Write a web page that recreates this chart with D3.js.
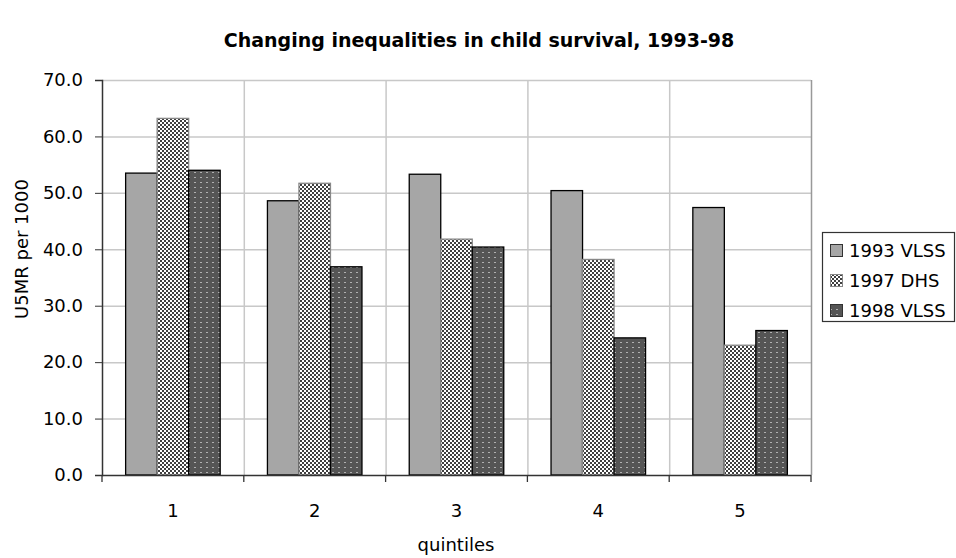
<!DOCTYPE html>
<html>
<head>
<meta charset="utf-8">
<script src="https://cdnjs.cloudflare.com/ajax/libs/d3/7.8.5/d3.min.js"></script>
<style>
  body { margin: 0; background: #fff; }
  text { font-family: "DejaVu Sans", Verdana, sans-serif; }
</style>
</head>
<body>
<svg id="chart" width="956" height="558"></svg>
<script>
// values
const quintiles = ["1", "2", "3", "4", "5"];
const seriesNames = ["1993 VLSS", "1997 DHS", "1998 VLSS"];
const vlss1993 = [53.5, 48.6, 53.3, 50.4, 47.4];
const dhs1997 = [63.2, 51.7, 41.8, 38.2, 23.0];
const vlss1998 = [54.0, 36.9, 40.4, 24.3, 25.6];
const yTicks = [0, 10, 20, 30, 40, 50, 60, 70];

const allSeries = [vlss1993, dhs1997, vlss1998];
const fills = ["#a6a6a6", "url(#checker)", "url(#dots)"];
const strokes = ["#000", "#888", "#000"];

const svg = d3.select("#chart");
const m = { left: 102, right: 811, top: 80, bottom: 475 };

// patterns
const defs = svg.append("defs");
const ck = defs.append("pattern").attr("id", "checker")
    .attr("patternUnits", "userSpaceOnUse").attr("width", 4).attr("height", 4);
ck.append("rect").attr("width", 4).attr("height", 4).attr("fill", "#fff");
ck.append("rect").attr("width", 2).attr("height", 2).attr("fill", "#404040");
ck.append("rect").attr("x", 2).attr("y", 2).attr("width", 2).attr("height", 2).attr("fill", "#404040");
const dt = defs.append("pattern").attr("id", "dots")
    .attr("patternUnits", "userSpaceOnUse").attr("width", 6).attr("height", 5);
dt.append("rect").attr("width", 6).attr("height", 5).attr("fill", "#555");
dt.append("rect").attr("x", 2).attr("y", 2).attr("width", 2).attr("height", 1).attr("fill", "#b0b0b0");

const x = d3.scaleBand().domain(quintiles).range([m.left, m.right]);
const xs = d3.scaleBand().domain(seriesNames).range([0, x.bandwidth()]).paddingInner(0).paddingOuter(0.75);
const y = d3.scaleLinear().domain([0, 70]).range([m.bottom, m.top]);

// gridlines
svg.append("g").selectAll("line").data(yTicks.slice(1)).enter().append("line")
    .attr("x1", m.left).attr("x2", m.right)
    .attr("y1", d => y(d) + 0.5).attr("y2", d => y(d) + 0.5)
    .attr("stroke", "#c8c8c8").attr("stroke-width", 1.5);
svg.append("g").selectAll("line").data(quintiles).enter().append("line")
    .attr("x1", (d, i) => m.left + x.step() * (i + 1) + 0.5)
    .attr("x2", (d, i) => m.left + x.step() * (i + 1) + 0.5)
    .attr("y1", m.top).attr("y2", m.bottom)
    .attr("stroke", (d, i) => i === 4 ? "#999" : "#c8c8c8").attr("stroke-width", 1.5);

// bars
allSeries.forEach((vals, s) => {
    svg.append("g").selectAll("rect").data(vals).enter().append("rect")
        .attr("x", (d, i) => x(quintiles[i]) + xs(seriesNames[s]))
        .attr("y", d => y(d))
        .attr("width", xs.bandwidth())
        .attr("height", d => y(0) - y(d))
        .attr("fill", fills[s])
        .attr("stroke", strokes[s]).attr("stroke-width", 1.3);
});

// y axis
const yAxis = d3.axisLeft(y).tickValues(yTicks).tickFormat(d3.format(".1f")).tickSize(7).tickPadding(12);
const gy = svg.append("g").attr("transform", `translate(${m.left},0)`).call(yAxis);
gy.select(".domain").attr("stroke", "#333").attr("stroke-width", 1.5);
gy.selectAll(".tick line").attr("stroke", "#333");
gy.selectAll("text").attr("font-size", 18).attr("fill", "#000")
    .style("font-family", '"DejaVu Sans", Verdana, sans-serif');

// x axis: ticks at category boundaries, labels centred
svg.append("line").attr("x1", m.left).attr("x2", m.right)
    .attr("y1", m.bottom + 0.5).attr("y2", m.bottom + 0.5)
    .attr("stroke", "#333").attr("stroke-width", 1.5);
svg.append("g").selectAll("line").data(d3.range(quintiles.length + 1)).enter().append("line")
    .attr("x1", i => m.left + x.step() * i).attr("x2", i => m.left + x.step() * i)
    .attr("y1", m.bottom).attr("y2", m.bottom + 7).attr("stroke", "#333").attr("stroke-width", 1.3);
svg.append("g").selectAll("text").data(quintiles).enter().append("text")
    .attr("x", d => x(d) + x.bandwidth() / 2).attr("y", m.bottom + 42)
    .attr("text-anchor", "middle").attr("font-size", 18).text(d => d);

// titles
svg.append("text").attr("x", 479).attr("y", 47).attr("text-anchor", "middle")
    .attr("font-size", 19).attr("font-weight", "bold")
    .text("Changing inequalities in child survival, 1993-98");
svg.append("text").attr("x", 456).attr("y", 551).attr("text-anchor", "middle")
    .attr("font-size", 18).text("quintiles");
svg.append("text").attr("transform", "translate(28,249) rotate(-90)")
    .attr("text-anchor", "middle").attr("font-size", 18).text("U5MR per 1000");

// legend
const lg = svg.append("g").attr("transform", "translate(822,232)");
lg.append("rect").attr("x", 0.5).attr("y", 0.5).attr("width", 132).attr("height", 89)
    .attr("fill", "#fff").attr("stroke", "#333").attr("stroke-width", 1.2);
seriesNames.forEach((n, i) => {
    lg.append("rect").attr("x", 8.5).attr("y", 12.5 + i * 30).attr("width", 12).attr("height", 12)
        .attr("fill", fills[i]).attr("stroke", strokes[i] === "#888" ? "#888" : "#333").attr("stroke-width", 1);
    lg.append("text").attr("x", 27).attr("y", 25 + i * 30).attr("font-size", 18).text(n);
});
</script>
</body>
</html>
